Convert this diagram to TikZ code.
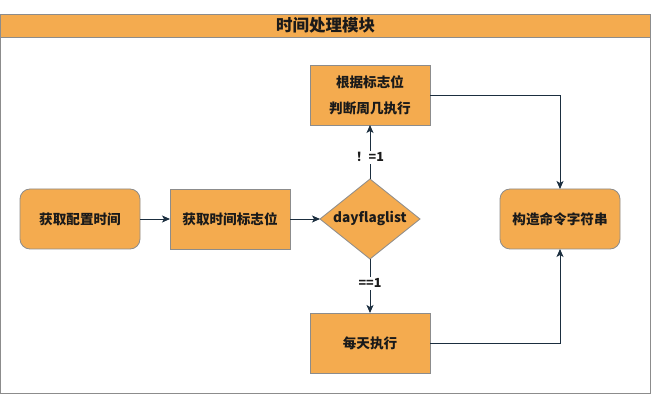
\documentclass[tikz,border=0pt]{standalone}
\usepackage{fontspec}
\newfontfamily\cjk{Noto Sans CJK SC}
\usepackage{tikz}
\usetikzlibrary{shapes.geometric,arrows.meta,positioning}
\definecolor{boxorange}{HTML}{F4AB4F}
\definecolor{boxgray}{HTML}{8C8C8C}
\definecolor{arrowdark}{HTML}{1B2E3F}
\definecolor{textdark}{HTML}{1A1A1A}
\tikzset{
  stepbox/.style={rectangle, draw=boxgray, line width=0.8pt, fill=boxorange, minimum width=120pt, minimum height=60pt, inner sep=0pt, outer sep=0pt, align=center, text=textdark, font=\cjk\bfseries\fontsize{13.6}{15}\selectfont},
  roundbox/.style={stepbox, rounded corners=10pt},
  decision/.style={diamond, aspect=1.25, draw=boxgray, line width=0.8pt, fill=boxorange, minimum width=100pt, minimum height=80pt, inner sep=0pt, outer sep=0pt, text height=9pt, text depth=2pt, text=textdark, font=\cjk\bfseries\fontsize{13.6}{15}\selectfont},
  framebox/.style={rectangle, draw=boxgray, line width=0.8pt, minimum width=650pt, minimum height=379.5pt, inner sep=0pt, outer sep=0pt},
  header/.style={rectangle, draw=boxgray, line width=0.8pt, fill=boxorange, minimum width=650pt, minimum height=23pt, inner sep=0pt, outer sep=0pt, text=textdark, font=\cjk\bfseries\fontsize{16.5}{18}\selectfont},
  arrow/.style={-{Stealth[length=8pt,width=7pt,inset=2pt]}, line width=0.9pt, draw=arrowdark},
  condlabel/.style={fill=white, inner sep=2pt, text=textdark, font=\cjk\bfseries\fontsize{12.5}{14}\selectfont}
}

\begin{document}
\begin{tikzpicture}[x=1pt,y=-1pt]
\useasboundingbox (0,0) rectangle (651,395);

\node[framebox] (frame) at (325.5,203.75) {};
\node[header, anchor=north] (title) at (frame.north) {时间处理模块};

\node[roundbox] (gettime) at (80,219) {获取配置时间};
\node[stepbox, right=30pt of gettime] (getflag) {获取时间标志位};
\node[decision, right=30pt of getflag] (flagcheck) {dayflaglist};
\node[stepbox, above=54pt of flagcheck] (weekday) {根据标志位\\[11pt]判断周几执行};
\node[stepbox, below=54pt of flagcheck] (daily) {每天执行};
\node[roundbox, right=80pt of flagcheck] (buildcmd) {构造命令字符串};

\draw[arrow] (gettime.east) -- (getflag.west);
\draw[arrow] (getflag.east) -- (flagcheck.west);
\draw[arrow] (flagcheck.north) -- node[condlabel, pos=0.4] {！=1} (weekday.south);
\draw[arrow] (flagcheck.south) -- node[condlabel, pos=0.45] {==1} (daily.north);
\draw[arrow] (weekday.east) -| (buildcmd.north);
\draw[arrow] (daily.east) -| (buildcmd.south);

\end{tikzpicture}
\end{document}
